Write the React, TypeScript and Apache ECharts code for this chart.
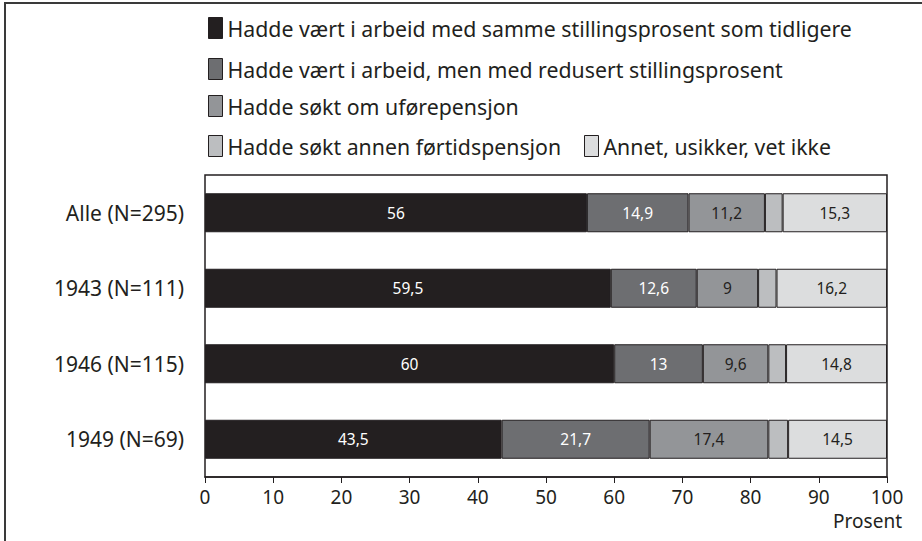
import React, { useEffect, useRef } from "react";
import * as echarts from "echarts";

const categories = ["Alle (N=295)", "1943 (N=111)", "1946 (N=115)", "1949 (N=69)"];
const seriesNames = [
  "Hadde vært i arbeid med samme stillingsprosent som tidligere",
  "Hadde vært i arbeid, men med redusert stillingsprosent",
  "Hadde søkt om uførepensjon",
  "Hadde søkt annen førtidspensjon",
  "Annet, usikker, vet ikke",
];
const sameJob = [56, 59.5, 60, 43.5];
const reducedJob = [14.9, 12.6, 13, 21.7];
const disability = [11.2, 9, 9.6, 17.4];
const otherEarly = [2.6, 2.7, 2.6, 2.9];
const otherUnsure = [15.3, 16.2, 14.8, 14.5];
const xTicks = [0, 10, 20, 30, 40, 50, 60, 70, 80, 90, 100];
const axisTitle = "Prosent";

const colors = ["#231f20", "#6d6e71", "#939598", "#bcbec0", "#dcddde"];
const labelColors = ["#ffffff", "#ffffff", "#231f20", "#231f20", "#231f20"];
const FONT = "Noto Sans";

export default function App() {
  const ref = useRef<HTMLDivElement>(null);
  useEffect(() => {
    if (!ref.current) return;
    const chart = echarts.init(ref.current, undefined, { renderer: "svg" });
    const allData = [sameJob, reducedJob, disability, otherEarly, otherUnsure];
    const legendPos = [
      { left: 208, top: 17 },
      { left: 208, top: 58 },
      { left: 208, top: 95 },
      { left: 208, top: 135 },
      { left: 584, top: 135 },
    ];
    const option: any = {
      animation: false,
      backgroundColor: "#ffffff",
      textStyle: { fontFamily: FONT },
      legend: seriesNames.map((n, i) => ({
        data: [n],
        left: legendPos[i].left,
        top: legendPos[i].top,
        icon: "rect",
        itemWidth: 14,
        itemHeight: 21,
        itemStyle: { borderColor: "#231f20", borderWidth: 1 },
        selectedMode: false,
        padding: 0,
        textStyle: {
          fontFamily: FONT,
          fontSize: 21.3,
          color: "#231f20",
          padding: [0, 0, 0, 0],
        },
      })),
      grid: {
        left: 205,
        right: 35,
        top: 175,
        bottom: 64,
        show: true,
        borderColor: "#231f20",
        borderWidth: 1.5,
        backgroundColor: "transparent",
      },
      xAxis: {
        type: "value",
        min: 0,
        max: 100,
        interval: 10,
        axisLine: { show: true, lineStyle: { color: "#231f20", width: 1.5 } },
        axisTick: { show: true, length: 6, lineStyle: { color: "#231f20", width: 1 } },
        splitLine: { show: false },
        axisLabel: {
          fontFamily: FONT,
          fontSize: 19,
          color: "#231f20",
          margin: 10,
          formatter: (v: number) => (xTicks.includes(v) ? String(v) : ""),
        },
      },
      yAxis: {
        type: "category",
        data: categories,
        inverse: true,
        axisLine: { show: false },
        axisTick: { show: false },
        axisLabel: {
          fontFamily: FONT,
          fontSize: 21,
          color: "#231f20",
          margin: 21,
        },
      },
      series: allData.map((d, i) => ({
        name: seriesNames[i],
        type: "bar",
        stack: "total",
        barWidth: 39,
        data: d,
        itemStyle: { color: colors[i], borderColor: "#231f20", borderWidth: 1 },
        label: {
          show: i !== 3,
          position: "inside",
          fontFamily: FONT,
          fontSize: 15.5,
          color: labelColors[i],
          formatter: (p: any) => String(p.value).replace(".", ","),
        },
      })),
      graphic: [
        {
          type: "rect",
          shape: { x: 5, y: 3, width: 960, height: 600 },
          style: { fill: "none", stroke: "#3a3a3a", lineWidth: 2 },
          silent: true,
        },
        {
          type: "text",
          right: 20,
          top: 511,
          style: {
            text: axisTitle,
            fontFamily: FONT,
            fontSize: 19,
            fill: "#231f20",
          },
        },
      ],
    };
    chart.setOption(option);
    return () => chart.dispose();
  }, []);
  return (
    <div
      ref={ref}
      style={{ position: "fixed", left: 0, top: 0, width: 922, height: 541 }}
    />
  );
}
